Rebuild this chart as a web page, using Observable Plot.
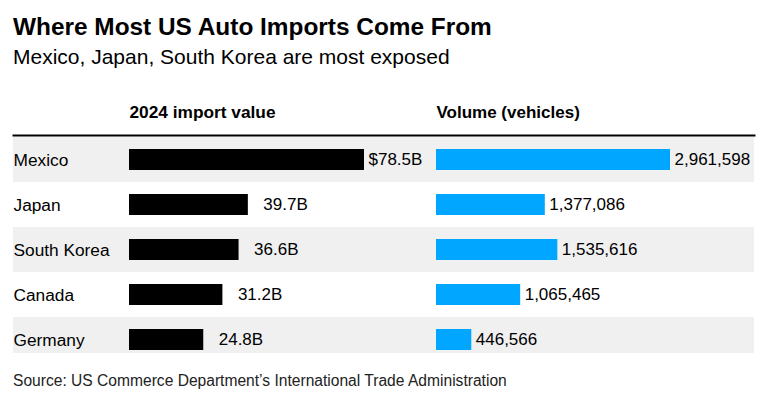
<!DOCTYPE html>
<html>
<head>
<meta charset="utf-8">
<script src="https://cdn.jsdelivr.net/npm/d3@7"></script>
<script src="https://cdn.jsdelivr.net/npm/@observablehq/plot@0.6"></script>
<style>
  body { margin: 0; background: #fff; }
  #wrap { position: relative; width: 765px; height: 398px; font-family: "Liberation Sans", Arial, sans-serif; color: #000; overflow: hidden; }
  .abs { position: absolute; left: 13px; white-space: nowrap; }
  #title { top: 13px; font-size: 24.4px; font-weight: bold; line-height: 28px; }
  #subtitle { top: 45px; font-size: 21px; line-height: 24px; }
  #source { top: 372px; font-size: 15.6px; line-height: 18px; color: #222; }
  .layer { position: absolute; left: 0; top: 90px; width: 765px; height: 263px; overflow: hidden; }
</style>
</head>
<body>
<div id="wrap">
  <div id="title" class="abs">Where Most US Auto Imports Come From</div>
  <div id="subtitle" class="abs">Mexico, Japan, South Korea are most exposed</div>
  <div id="l1" class="layer"></div>
  <div id="l2" class="layer"></div>
  <div id="source" class="abs">Source: US Commerce Department’s International Trade Administration</div>
</div>
<script>
const countries = ["Mexico", "Japan", "South Korea", "Canada", "Germany"];
const importValue = [78.5, 39.7, 36.6, 31.2, 24.8];            // billions USD
const importLabels = ["$78.5B", "39.7B", "36.6B", "31.2B", "24.8B"];
const volume = [2961598, 1377086, 1535616, 1065465, 446566];  // vehicles
const headers = ["2024 import value", "Volume (vehicles)"];
const shadedRows = ["Mexico", "South Korea", "Germany"];

const rows = countries.map((c, i) => ({
  country: c, value: importValue[i], label: importLabels[i], volume: volume[i]
}));

const common = {
  width: 765,
  height: 263,
  marginLeft: 13,
  marginRight: 11,
  marginTop: 45,
  marginBottom: 0,
  style: {fontFamily: "'Liberation Sans', Arial, sans-serif", fontSize: "17px", background: "transparent", overflow: "hidden", color: "#000"},
  y: {domain: countries, range: [47, 272], padding: 0, axis: null}
};

const p1 = Plot.plot({
  ...common,
  x: {domain: [0, d3.max(importValue)], range: [129, 364], axis: null},
  marks: [
    Plot.cell(shadedRows, {y: d => d, fill: "#f0f0f0"}),
    Plot.frame({anchor: "top", stroke: "#000", strokeWidth: 2}),
    Plot.text([headers[0]], {x: () => 0, frameAnchor: "top", textAnchor: "start", lineAnchor: "bottom", dy: -18, fontWeight: "bold", fontSize: 17.3, fill: "#000"}),
    Plot.text(rows, {y: "country", text: "country", frameAnchor: "left", textAnchor: "start", fontSize: 17.3, fill: "#000"}),
    Plot.barX(rows, {y: "country", x: "value", fill: "#000", insetTop: 12, insetBottom: 12}),
    Plot.text(rows.slice(0, 1), {y: "country", x: "value", text: "label", textAnchor: "start", dx: 4, fontSize: 17, fill: "#000"}),
    Plot.text(rows.slice(1), {y: "country", x: "value", text: "label", textAnchor: "start", dx: 15, fontSize: 17, fill: "#000"})
  ]
});
document.getElementById("l1").appendChild(p1);

const fmt = d3.format(",");
const p2 = Plot.plot({
  ...common,
  x: {domain: [0, d3.max(volume)], range: [436, 670], axis: null},
  marks: [
    Plot.text([headers[1]], {x: () => 0, frameAnchor: "top", textAnchor: "start", lineAnchor: "bottom", dy: -18, fontWeight: "bold", fontSize: 17, fill: "#000"}),
    Plot.barX(rows, {y: "country", x: "volume", fill: "#00a6ff", insetTop: 12, insetBottom: 12}),
    Plot.text(rows, {y: "country", x: "volume", text: d => fmt(d.volume), textAnchor: "start", dx: 4, fontSize: 17, fill: "#000"})
  ]
});
document.getElementById("l2").appendChild(p2);
</script>
</body>
</html>
